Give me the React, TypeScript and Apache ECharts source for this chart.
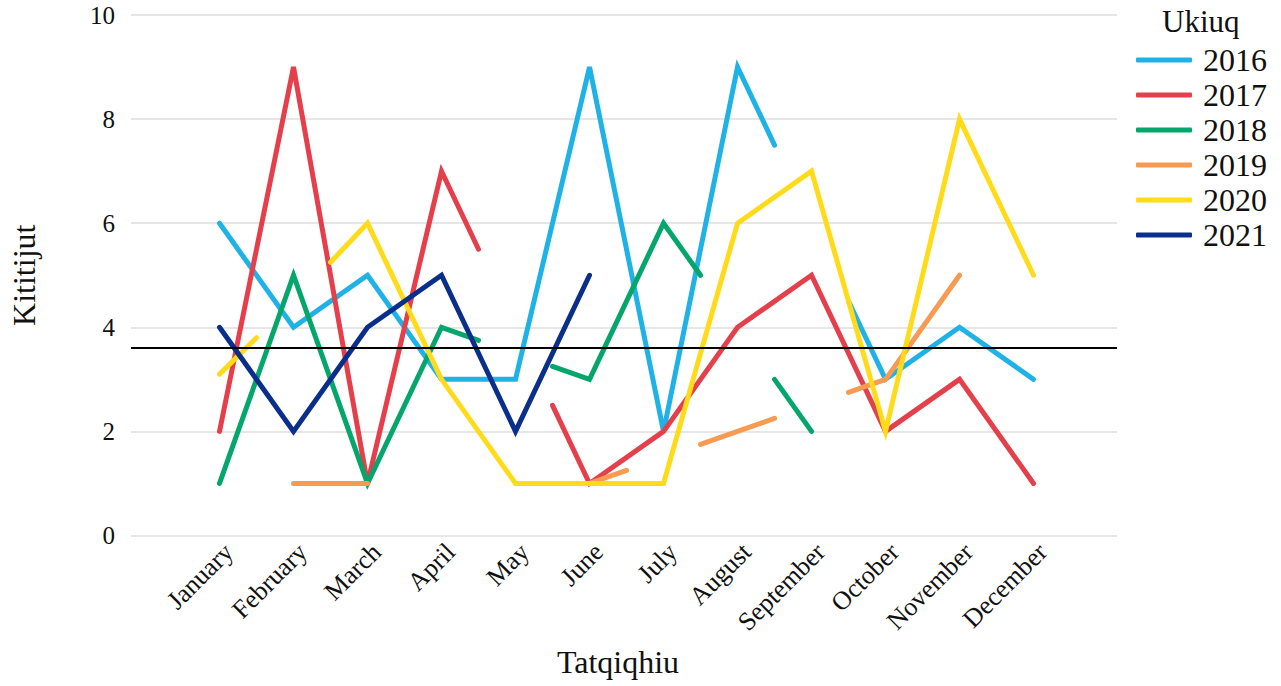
import React, { useEffect, useRef } from "react";
import * as echarts from "echarts";

const months = ["January", "February", "March", "April", "May", "June", "July", "August", "September", "October", "November", "December"];
const years = ["2016", "2017", "2018", "2019", "2020", "2021"];
const colors = ["#1fb2e6", "#e43f4a", "#04a66c", "#f79a52", "#ffdb1a", "#0a2f8b"];

const v2016 = [6, 4, 5, 3, 3, 9, 2, 9, 6, 3, 4, 3];
const v2017 = [2, 9, 1, 7, 4, 1, 2, 4, 5, 2, 3, 1];
const v2018 = [1, 5, 1, 4, 3.5, 3, 6, 4, 2, null, null, null];
const v2019 = [null, 1, 1, null, null, 1, 1.5, 2, 2.5, 3, 5, null];
const v2020 = [3.1, 4.5, 6, 3, 1, 1, 1, 6, 7, 2, 8, 5];
const v2021 = [4, 2, 4, 5, 2, 5, null, null, null, null, null, null];

// month indexes (0-based) whose point is not drawn (line stops half-way to them)
const h2016 = [8];
const h2017 = [4];
const h2018 = [4, 7];
const h2019 = [6, 8];
const h2020 = [1];
const h2021: number[] = [];

const meanValue = 3.6;
const yTicks = [0, 2, 4, 6, 8, 10];

const allValues = [v2016, v2017, v2018, v2019, v2020, v2021];
const allHidden = [h2016, h2017, h2018, h2019, h2020, h2021];

const FONT = "Liberation Serif";

function buildPath(vals: (number | null)[], hidden: number[]) {
  const out: any[] = [];
  let last: number[] | null = null;
  for (let i = 0; i < vals.length - 1; i++) {
    const a = vals[i];
    const b = vals[i + 1];
    if (a == null || b == null) continue;
    const hA = hidden.includes(i);
    const hB = hidden.includes(i + 1);
    if (hA && hB) continue;
    const mx = i + 1.5;
    const my = (a + b) / 2;
    const start = hA ? [mx, my] : [i + 1, a];
    const end = hB ? [mx, my] : [i + 2, b];
    if (last && last[0] === start[0] && last[1] === start[1]) {
      out.push(end);
    } else {
      if (out.length) out.push([start[0] - 0.01, "-"]);
      out.push(start);
      out.push(end);
    }
    last = end;
  }
  return out;
}

const yTickStyle = { fontFamily: FONT, fontSize: 25, color: "#111" };
const xTickStyle = { fontFamily: FONT, fontSize: 26, color: "#111" };
const nameStyle = { fontFamily: FONT, fontSize: 32, color: "#111" };

export default function App() {
  const ref = useRef<HTMLDivElement>(null);
  useEffect(() => {
    if (!ref.current) return;
    const chart = echarts.init(ref.current, null, { renderer: "svg" });
    const series: any[] = years.map((y, k) => ({
      name: y,
      type: "line",
      data: buildPath(allValues[k], allHidden[k]),
      symbol: "none",
      connectNulls: false,
      color: colors[k],
      lineStyle: { color: colors[k], width: 5, cap: "round", join: "miter", miterLimit: 10 },
      z: 2,
    }));
    series.push({
      name: "mean",
      type: "line",
      data: [],
      symbol: "none",
      z: 3,
      markLine: {
        silent: true,
        symbol: "none",
        label: { show: false },
        lineStyle: { color: "#000", width: 2, type: "solid" },
        data: [{ yAxis: meanValue }],
        z: 3,
      },
    });
    chart.setOption({
      animation: false,
      backgroundColor: "#fff",
      textStyle: { fontFamily: FONT },
      title: {
        text: "Ukiuq",
        left: 1162,
        top: 6,
        padding: 0,
        textStyle: { fontFamily: FONT, fontSize: 31, fontWeight: "normal", color: "#111" },
      },
      legend: {
        data: years,
        orient: "vertical",
        left: 1136,
        top: 44,
        itemWidth: 56,
        itemHeight: 5,
        itemGap: 3,
        icon: "roundRect",
        padding: 0,
        textStyle: { fontFamily: FONT, fontSize: 32, color: "#111", lineHeight: 32, padding: [0, 0, 0, 6] },
      },
      grid: { left: 131, right: 164, top: 15, bottom: 150.5 },
      xAxis: {
        type: "value",
        min: -0.196,
        max: 13.128,
        name: "Tatqiqhiu",
        nameLocation: "middle",
        nameGap: 110,
        nameTextStyle: { ...nameStyle, padding: [0, 12, 0, 0] },
        axisLine: { show: false },
        axisTick: { show: false },
        splitLine: { show: false },
        axisLabel: {
          customValues: months.map((_, i) => i + 1),
          formatter: (v: number) => months[Math.round(v) - 1] || "",
          rotate: 45,
          align: "right",
          verticalAlign: "top",
          margin: 3,
          ...xTickStyle,
        },
      },
      yAxis: {
        type: "value",
        min: 0,
        max: 10,
        interval: 2,
        name: "Kititijut",
        nameLocation: "middle",
        nameGap: 91,
        nameTextStyle: nameStyle,
        axisLine: { show: false },
        axisTick: { show: false },
        axisLabel: {
          customValues: yTicks,
          margin: 16,
          ...yTickStyle,
        },
        splitLine: { show: true, lineStyle: { color: "#e6e6e6", width: 2 } },
      },
      series,
    });
    return () => chart.dispose();
  }, []);
  return (
    <div
      ref={ref}
      style={{ position: "fixed", left: 0, top: 0, width: 1281, height: 686 }}
    />
  );
}
